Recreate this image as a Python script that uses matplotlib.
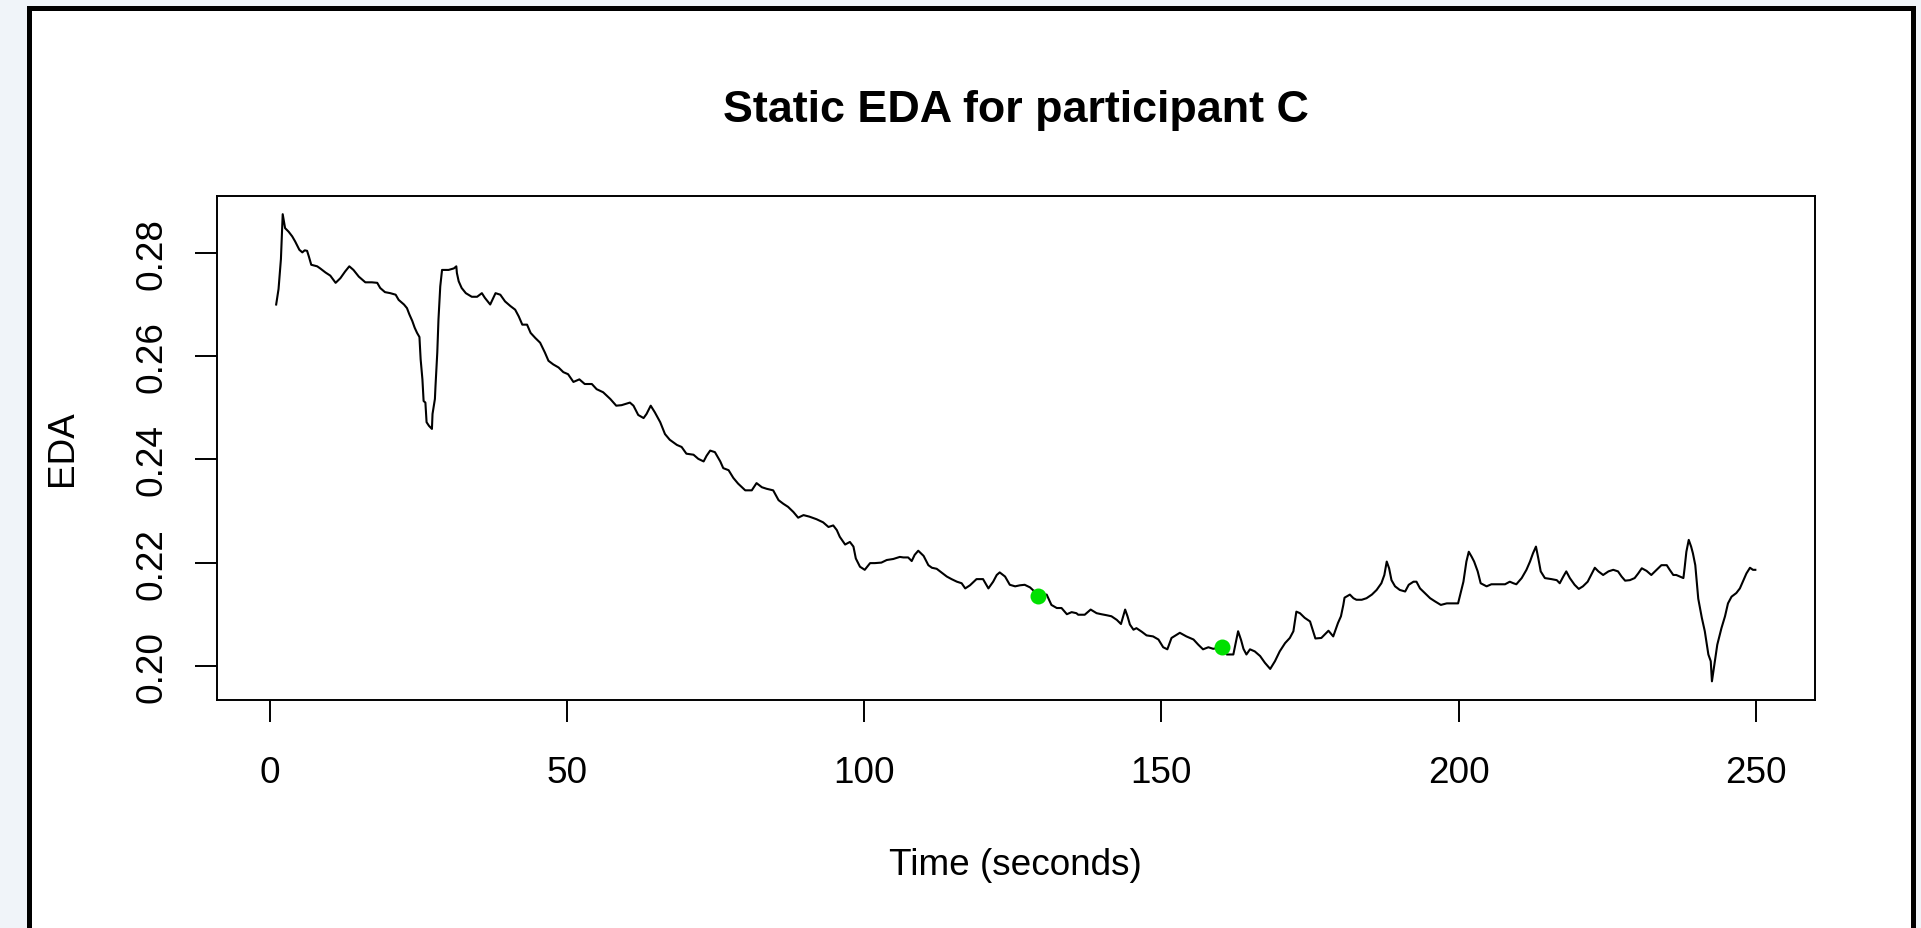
import matplotlib
matplotlib.use("Agg")
import matplotlib.pyplot as plt
from matplotlib.patches import Rectangle

# EDA trace (seconds, microsiemens-scaled units)
time_s = [
    1.1, 1.5, 1.9, 2.2, 2.6, 3.2, 3.8, 4.3, 5.0, 5.5, 5.9, 6.3, 6.6, 7.0, 8.0, 8.5,
    9.4, 10.2, 11.1, 11.9, 12.7, 13.4, 14.1, 15.0, 16.1, 17.2, 18.1, 18.6, 19.4, 20.3,
    21.2, 21.7, 22.6, 23.1, 23.5, 24.0, 24.4, 24.8, 25.2, 25.4, 25.7, 25.9, 26.2, 26.4,
    26.8, 27.3, 27.4, 27.8, 27.9, 28.2, 28.4, 28.7, 29.0, 30.1, 31.0, 31.4, 31.5, 31.8,
    32.3, 33.0, 34.0, 34.9, 35.7, 36.2, 37.1, 38.0, 38.8, 39.6, 40.5, 41.3, 41.9, 42.5,
    43.3, 43.9, 44.7, 45.5,
    46.3, 46.9, 47.7, 48.6, 49.4, 50.2, 51.1, 52.1, 53.0, 54.2, 55.0, 56.1, 57.3, 58.3,
    59.2, 60.6, 61.2, 62.0, 62.9, 63.4, 64.1, 64.8, 65.7, 66.5, 67.3, 68.5, 69.3, 70.1,
    71.3, 72.1, 73.0, 73.5, 74.1, 74.9, 75.8, 76.3, 77.2, 78.0, 78.8, 80.0, 81.1, 81.9,
    82.8, 83.6, 84.7, 85.6, 86.4, 87.2, 88.1, 88.9, 89.8, 90.8,
    92.0, 93.1, 94.0, 94.8, 95.4, 95.9, 96.8, 97.6, 98.2, 98.6, 99.3, 100.1, 101.0,
    101.8, 102.9, 103.8, 104.9, 106.0, 106.6, 107.4, 108.0, 108.5, 109.1, 110.0, 110.8,
    111.4, 112.2, 113.0, 113.9, 114.7, 115.6, 116.4, 117.0, 117.8, 118.9, 120.0, 120.9,
    121.7, 122.3, 122.8, 123.7, 124.5, 125.4, 126.2, 127.0, 127.9, 129.2, 130.7, 131.5,
    132.4, 133.2, 134.1, 134.9, 135.7,
    136.0, 137.1, 138.1, 139.1, 139.9, 140.8, 141.6, 142.5, 143.2, 143.9, 144.3, 144.7,
    145.3, 145.8, 146.7, 147.5, 148.6, 149.5, 150.3, 151.0, 151.7, 153.1, 154.2, 155.4,
    156.2, 157.0, 157.9, 158.7, 160.2, 161.0, 162.1, 162.5, 162.9, 163.4, 163.8, 164.3,
    164.9, 165.7, 166.6, 167.4, 168.3, 169.1, 169.9, 170.8, 171.6, 172.2, 172.7, 173.3,
    174.1, 175.0, 175.9, 176.9, 178.1, 178.9, 179.7, 180.2, 180.6, 180.8,
    181.1, 181.7, 182.3, 182.8, 183.7, 184.5, 185.4, 186.2, 187.0, 187.5, 187.9, 188.3,
    188.7, 189.3, 190.1, 191.0, 191.6, 192.4, 192.9, 193.5, 194.3, 195.2, 196.0, 197.0,
    198.0, 199.1, 199.9, 200.4, 200.8, 201.3, 201.7, 202.2, 202.6, 203.2, 203.7, 204.7,
    205.5, 206.7, 207.8, 208.6, 209.2, 209.7, 210.6, 211.4, 212.0, 212.5, 213.0, 213.4,
    213.8, 214.5, 215.6, 216.5, 217.0, 217.6, 218.1, 218.7, 219.5, 220.2, 220.9, 221.7,
    222.4, 222.9, 223.5, 224.3, 225.2, 226.0, 226.8, 227.4, 228.0, 228.8, 229.6, 230.2,
    230.8, 231.6, 232.4, 233.3, 234.1, 235.0, 235.5, 236.1, 236.6, 237.2, 237.8, 238.0,
    238.3, 238.7, 239.1, 239.4, 239.8, 240.3, 240.9, 241.4, 242.0, 242.4, 242.6, 243.1,
    243.5, 244.2, 244.8, 245.3, 245.9, 246.7, 247.3, 247.9, 248.4, 249.0, 249.5, 249.9,
]
eda = [
    0.2700, 0.2730, 0.2788, 0.2875, 0.2848, 0.2841, 0.2832, 0.2822, 0.2806, 0.2801, 0.2805,
    0.2804, 0.2793, 0.2777, 0.2774, 0.2770, 0.2762, 0.2756, 0.2742, 0.2751, 0.2764, 0.2774,
    0.2767, 0.2754, 0.2743, 0.2743, 0.2742, 0.2732, 0.2724, 0.2722, 0.2719, 0.2709, 0.2700,
    0.2693, 0.2681, 0.2668, 0.2655, 0.2645, 0.2637, 0.2594, 0.2555, 0.2513, 0.2510, 0.2472,
    0.2465, 0.2459, 0.2488, 0.2517, 0.2542, 0.2607, 0.2671, 0.2735, 0.2767, 0.2767, 0.2770,
    0.2774, 0.2761, 0.2745, 0.2732, 0.2722, 0.2715, 0.2715, 0.2722, 0.2713, 0.2700, 0.2722,
    0.2719, 0.2706, 0.2697, 0.2690, 0.2677, 0.2661, 0.2661, 0.2645, 0.2635, 0.2626,
    0.2607, 0.2591, 0.2584, 0.2578, 0.2569, 0.2565, 0.2550, 0.2555, 0.2546, 0.2546, 0.2536,
    0.2530, 0.2517, 0.2504, 0.2505, 0.2510, 0.2504, 0.2486, 0.2480, 0.2488, 0.2504, 0.2491,
    0.2472, 0.2449, 0.2438, 0.2428, 0.2424, 0.2411, 0.2409, 0.2401, 0.2396, 0.2407, 0.2417,
    0.2414, 0.2396, 0.2383, 0.2379, 0.2364, 0.2353, 0.2340, 0.2340, 0.2354, 0.2346, 0.2343,
    0.2340, 0.2321, 0.2314, 0.2308, 0.2298, 0.2287, 0.2292, 0.2289,
    0.2284, 0.2278, 0.2269, 0.2272, 0.2263, 0.2250, 0.2235, 0.2240, 0.2231, 0.2208, 0.2192,
    0.2186, 0.2199, 0.2199, 0.2200, 0.2205, 0.2207, 0.2211, 0.2210, 0.2210, 0.2203, 0.2215,
    0.2223, 0.2213, 0.2195, 0.2190, 0.2188, 0.2181, 0.2173, 0.2168, 0.2163, 0.2160, 0.2150,
    0.2156, 0.2168, 0.2168, 0.2150, 0.2163, 0.2176, 0.2181, 0.2173, 0.2157, 0.2154, 0.2156,
    0.2157, 0.2152, 0.2138, 0.2138, 0.2118, 0.2112, 0.2112, 0.2100, 0.2104, 0.2102,
    0.2099, 0.2099, 0.2109, 0.2102, 0.2100, 0.2098, 0.2096, 0.2089, 0.2081, 0.2109, 0.2096,
    0.2080, 0.2070, 0.2073, 0.2066, 0.2059, 0.2057, 0.2051, 0.2036, 0.2032, 0.2054, 0.2064,
    0.2057, 0.2051, 0.2041, 0.2032, 0.2036, 0.2033, 0.2036, 0.2022, 0.2022, 0.2044, 0.2067,
    0.2050, 0.2033, 0.2022, 0.2032, 0.2028, 0.2019, 0.2006, 0.1994, 0.2009, 0.2028, 0.2044,
    0.2054, 0.2067, 0.2105, 0.2102, 0.2093, 0.2086, 0.2053, 0.2054, 0.2068, 0.2057, 0.2083,
    0.2096, 0.2118, 0.2132,
    0.2134, 0.2138, 0.2131, 0.2128, 0.2128, 0.2131, 0.2138, 0.2147, 0.2160, 0.2176, 0.2202,
    0.2189, 0.2166, 0.2154, 0.2147, 0.2144, 0.2157, 0.2163, 0.2163, 0.2150, 0.2141, 0.2131,
    0.2125, 0.2118, 0.2121, 0.2121, 0.2121, 0.2144, 0.2163, 0.2202, 0.2221, 0.2211, 0.2202,
    0.2183, 0.2160, 0.2154, 0.2158, 0.2158, 0.2158, 0.2163, 0.2160, 0.2158, 0.2170, 0.2186,
    0.2202, 0.2218, 0.2231, 0.2208, 0.2183, 0.2170, 0.2168, 0.2166, 0.2160, 0.2173, 0.2183,
    0.2170, 0.2157, 0.2149, 0.2154, 0.2163, 0.2179, 0.2190, 0.2183, 0.2176, 0.2183, 0.2186,
    0.2183, 0.2173, 0.2165, 0.2166, 0.2170, 0.2179, 0.2189, 0.2184, 0.2176, 0.2186, 0.2195,
    0.2195, 0.2186, 0.2176, 0.2176, 0.2173, 0.2170, 0.2189, 0.2221, 0.2244, 0.2231, 0.2218,
    0.2195, 0.2130, 0.2093, 0.2067, 0.2022, 0.2009, 0.1970, 0.2009, 0.2041, 0.2073, 0.2096,
    0.2121, 0.2134, 0.2141, 0.2150, 0.2166, 0.2179, 0.2190, 0.2186, 0.2186,
]

# highlighted moments
marked_time = [129.2, 160.2]
marked_eda = [0.2136, 0.2036]

x_ticks = [0, 50, 100, 150, 200, 250]
y_ticks = [0.20, 0.22, 0.24, 0.26, 0.28]

plt.rcParams['font.family'] = ['Liberation Sans', 'DejaVu Sans']

W, H = 1921, 929
fig = plt.figure(figsize=(W / 100, H / 100), dpi=100, facecolor='#f0f4f9')

def px(x, y):
    return x / W, 1 - y / H

# white page with a heavy black border
x0, y0 = px(29, 940)
x1, y1 = px(1912.5, 8.5)
fig.add_artist(Rectangle((x0, y0), x1 - x0, y1 - y0, transform=fig.transFigure,
                         facecolor='white', edgecolor='black', linewidth=3.6, zorder=-5))

left, bottom = px(217, 701)
right, top = px(1814.5, 196.5)
ax = fig.add_axes([left, bottom, right - left, top - bottom])
ax.set_facecolor('white')

ax.plot(time_s, eda, color='black', linewidth=1.5)
ax.plot(marked_time, marked_eda, 'o', color='#00e000', markersize=11.5, markeredgewidth=0)

# R-style 4% padding
xr = max(time_s) - min(time_s)
yr = max(eda) - min(eda)
ax.set_xlim(min(time_s) - 0.04 * xr, max(time_s) + 0.04 * xr)
ax.set_ylim(min(eda) - 0.04 * yr, max(eda) + 0.04 * yr)

ax.set_xticks(x_ticks)
ax.set_xticklabels([str(v) for v in x_ticks])
ax.set_yticks(y_ticks)
ax.set_yticklabels([f'{v:.2f}' for v in y_ticks])

for s in ax.spines.values():
    s.set_linewidth(1.4)

ax.tick_params(axis='both', direction='out', length=15.8, width=1.4, labelsize=26.6)
ax.tick_params(axis='x', pad=43.5)
ax.tick_params(axis='y', pad=24.5)
plt.setp(ax.get_xticklabels(), va='baseline')
plt.setp(ax.get_yticklabels(), rotation=90, rotation_mode='anchor', ha='center', va='baseline')

tx, ty = px(1015.8, 122)
fig.text(tx, ty, 'Static EDA for participant C', ha='center', va='baseline',
         fontsize=32.3, fontweight='bold')
lx, ly = px(1015.8, 875)
fig.text(lx, ly, 'Time (seconds)', ha='center', va='baseline', fontsize=26.6)
ex, ey = px(72, 448.5)
fig.text(ex, ey, 'EDA', ha='center', va='baseline', rotation=90,
         rotation_mode='anchor', fontsize=26.6)

fig.savefig('out.png', dpi=100, facecolor=fig.get_facecolor())
